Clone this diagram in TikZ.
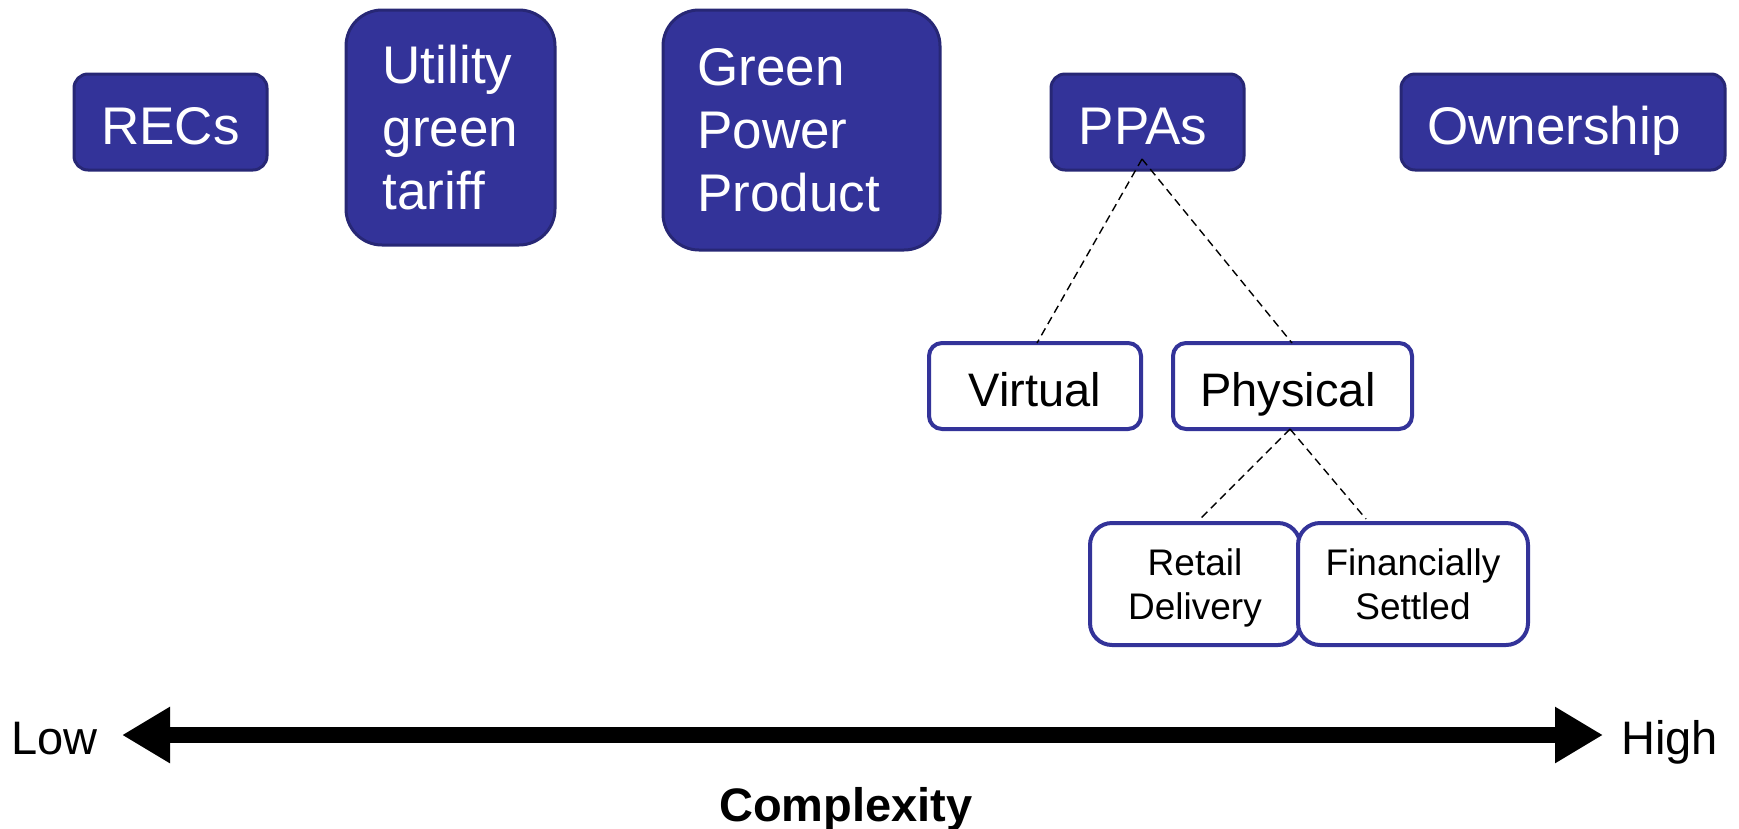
\documentclass[tikz,border=0pt]{standalone}
\usepackage{fontspec}
\setmainfont{Liberation Sans}
\usetikzlibrary{arrows.meta}
\definecolor{navy}{HTML}{333399}
\definecolor{navyedge}{HTML}{272775}
\tikzset{
  solidbox/.style={draw=navyedge, fill=navy, line width=3pt, text=white, align=left,
    font=\fontsize{53}{63}\selectfont, inner sep=0pt},
  oneline/.style={text height=45pt, text depth=0pt},
  openbox/.style={draw=navy, fill=white, line width=4pt, text=black, align=center, inner sep=0pt},
  link/.style={dashed, dash pattern=on 8pt off 5pt, line width=1.4pt, black},
  axislabel/.style={font=\fontsize{47}{56}\selectfont, inner sep=0pt}
}
\begin{document}
\begin{tikzpicture}[x=1pt, y=-1pt]
\useasboundingbox (0,0) rectangle (1739,828);
% top row
\node[solidbox, oneline, rounded corners=14pt, minimum width=193pt, minimum height=96pt] (recs) at (170.5,122) {RECs};
\node[solidbox, rounded corners=36pt, minimum width=209pt, minimum height=235pt] (utility) at (450.5,127.5) {Utility\\green\hspace*{9pt}\\tariff};
\node[solidbox, rounded corners=36pt, minimum width=277pt, minimum height=240pt] (gpp) at (801.5,130) {Green\\Power\\Product\hspace*{26pt}};
\node[solidbox, oneline, rounded corners=14pt, minimum width=193pt, minimum height=96pt] (ppas) at (1147.5,122) {PPAs\hspace*{9pt}};
\node[solidbox, oneline, rounded corners=14pt, minimum width=324pt, minimum height=96pt] (own) at (1563,122) {Ownership\hspace*{18pt}};
% second level
\node[openbox, rounded corners=13pt, minimum width=212pt, minimum height=86pt, text height=41pt, text depth=0pt, font=\fontsize{47}{56}\selectfont] (virtual) at (1035,386) {Virtual};
\node[openbox, rounded corners=13pt, minimum width=239pt, minimum height=86pt, text height=41pt, text depth=0pt, font=\fontsize{47}{56}\selectfont] (physical) at (1292.5,386) {Physical\hspace*{9pt}};
% third level
\node[openbox, rounded corners=22pt, minimum width=210pt, minimum height=122pt, font=\fontsize{37}{44}\selectfont] (retail) at (1195,584) {Retail\\\smash{Delivery}};
\node[openbox, rounded corners=22pt, minimum width=230pt, minimum height=122pt, font=\fontsize{37}{44}\selectfont] (fin) at (1413,584) {Financially\\\smash{Settled}};
% dashed tree links
\coordinate (ppaapex) at (1142,159);
\coordinate (virttop) at (1037,343);
\coordinate (phystop) at (1292,343);
\coordinate (physapex) at (1290,429);
\coordinate (retailtop) at (1200,519);
\coordinate (fintop) at (1366,519);
\draw[link] (ppaapex) -- (virttop);
\draw[link] (ppaapex) -- (phystop);
\draw[link] (physapex) -- (retailtop);
\draw[link] (physapex) -- (fintop);
% axis
\node[axislabel, anchor=base west] (low) at (11,754) {Low};
\node[axislabel, anchor=base west] (high) at (1621,754) {High};
\node[axislabel, anchor=base, font=\fontsize{47}{56}\selectfont\bfseries] (cx) at (846,821) {Complexity};
\coordinate (lowtip) at (122,735);
\coordinate (hightip) at (1603,735);
\draw[line width=16pt, {Triangle[length=48pt,width=53pt]}-{Triangle[length=48pt,width=53pt]}] (lowtip) -- (hightip);
\end{tikzpicture}
\end{document}
